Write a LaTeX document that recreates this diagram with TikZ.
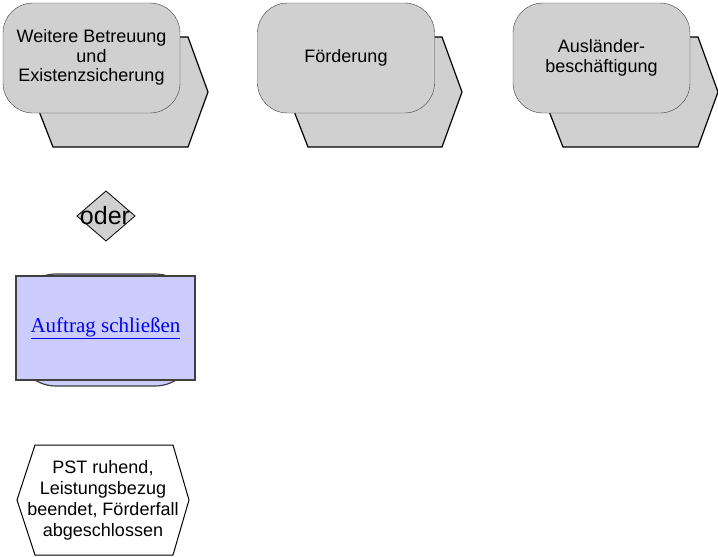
\documentclass[tikz,border=0pt]{standalone}
\usepackage{fontspec}
\setmainfont{Liberation Sans}
\newfontfamily\linkfont{Liberation Serif}

\definecolor{fktgrey}{HTML}{D0D0D0}
\definecolor{actblue}{HTML}{CCCCFF}
\definecolor{linkblue}{HTML}{0000EE}

\tikzset{
  func/.style={draw=black!75, fill=fktgrey, rounded corners=30pt,
    minimum width=177pt, minimum height=110pt, inner sep=0pt,
    align=center, font=\fontsize{18}{20.5}\selectfont},
  iface/.style={draw=black, fill=fktgrey, line width=1.2pt},
  conn/.style={draw=black, fill=fktgrey, line width=0.8pt},
  actback/.style={draw=black!75, fill=actblue, line width=1.2pt, rounded corners=40pt},
  act/.style={draw=black!75, fill=actblue, line width=1.2pt,
    minimum width=179pt, minimum height=104pt, inner sep=0pt,
    font=\linkfont\fontsize{21}{24}\selectfont, text=linkblue},
  event/.style={draw=black, fill=white, line width=1pt},
  evtext/.style={align=center, inner sep=0pt, font=\fontsize{18}{21}\selectfont}
}

\begin{document}
\begin{tikzpicture}[x=1pt, y=-1pt]
\useasboundingbox (0,0) rectangle (718,557);
% process interfaces, back shapes first
\foreach \L/\R in {3/180, 258/434, 513/690}
  \draw [iface] (\L+7,37) -- (\R+8,37) -- (\R+28,92) -- (\R+8,147) -- (\L+50,147) -- cycle;
\node [func] (betreuung) at (91.5,58) {\raisebox{-2pt}{\begin{tabular}{@{}c@{}}Weitere Betreuung\\[-1pt]und\\[-1pt]Existenzsicherung\end{tabular}}};
\node [func] (foerderung) at (346,58) {\raisebox{-2pt}{Förderung}};
\node [func] (auslaender) at (601.5,58) {Ausländer-\\beschäftigung};
% connector
\draw [conn] (77,216) -- (106,191) -- (135,216) -- (106,241) -- cycle;
\node [inner sep=0pt, font=\fontsize{25}{26}\selectfont] (oder) at (105,216) {oder};
% function
\draw [actback] (16,274) rectangle (195,386);
\node [act] (schliessen) at (105.5,328) {\raisebox{5pt}{\underline{Auftrag schließen}}};
% event
\draw [event] (17,500) -- (35,445) -- (173,445) -- (189,500) -- (173,555) -- (35,555) -- cycle;
\node [evtext] (ruhend) at (103,500) {PST ruhend,\\Leistungsbezug\\beendet, Förderfall\\abgeschlossen};
\end{tikzpicture}
\end{document}
